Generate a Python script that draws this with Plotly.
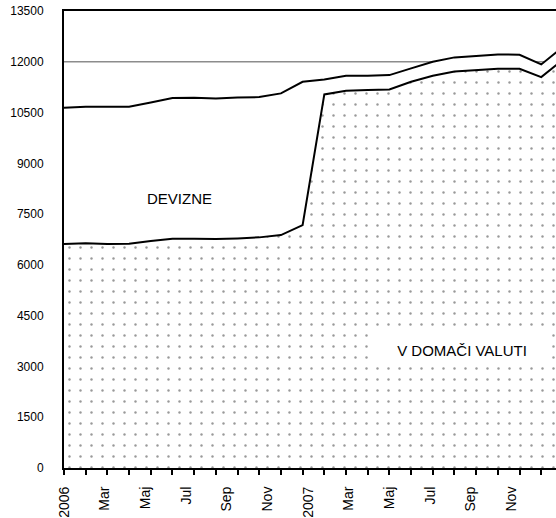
import plotly.graph_objects as go

# Months Jan 2006 .. Dec 2007
months = ["Jan 2006", "Feb 2006", "Mar 2006", "Apr 2006", "Maj 2006", "Jun 2006",
          "Jul 2006", "Avg 2006", "Sep 2006", "Okt 2006", "Nov 2006", "Dec 2006",
          "Jan 2007", "Feb 2007", "Mar 2007", "Apr 2007", "Maj 2007", "Jun 2007",
          "Jul 2007", "Avg 2007", "Sep 2007", "Okt 2007", "Nov 2007", "Dec 2007"]

# V domači valuti (domestic currency)
domestic = [6615, 6636, 6615, 6624, 6704, 6772, 6772, 6763, 6783, 6813, 6881, 7177,
            11036, 11143, 11163, 11184, 11409, 11586, 11715, 11745, 11793, 11793, 11548, 12064]
# Devizne (foreign currency), stacked on top
foreign = [4025, 4034, 4055, 4046, 4096, 4155, 4164, 4155, 4165, 4144, 4185, 4232,
           443, 443, 423, 422, 395, 414, 415, 423, 425, 415, 374, 376]

tick_labels = ["2006", "Mar", "Maj", "Jul", "Sep", "Nov", "2007", "Mar", "Maj", "Jul", "Sep", "Nov"]
y_ticks = list(range(0, 13501, 1500))

x = list(range(len(months)))
total = [d + f for d, f in zip(domestic, foreign)]
label_pos = [1.875 * i for i in range(len(tick_labels))]

FONT = "Liberation Sans, Arial, sans-serif"

fig = go.Figure()
fig.add_trace(go.Scatter(
    x=x, y=domestic, mode="lines", name="V DOMAČI VALUTI",
    line=dict(color="black", width=2),
    fill="tozeroy", fillcolor="white",
    fillpattern=dict(shape=".", fgcolor="#333333", bgcolor="white", size=11, solidity=0.04),
    hovertext=months,
))
fig.add_trace(go.Scatter(
    x=x, y=total, mode="lines", name="DEVIZNE",
    line=dict(color="black", width=2),
    fill="tonexty", fillcolor="white",
    hovertext=months,
))

fig.add_shape(type="line", xref="paper", yref="y", x0=0, x1=1, y0=12000, y1=12000,
              line=dict(color="#8c8c8c", width=1.5), layer="below")

fig.add_annotation(x=5.33, y=7974, text="DEVIZNE", showarrow=False,
                   font=dict(family=FONT, size=15, color="black"))
fig.add_annotation(x=18.34, y=3485, text="V DOMAČI VALUTI", showarrow=False,
                   font=dict(family=FONT, size=15, color="black"),
                   bgcolor="white", width=176, height=30)

fig.update_layout(
    width=556, height=518,
    margin=dict(l=64, r=0, t=11, b=50),
    paper_bgcolor="white", plot_bgcolor="white",
    showlegend=False,
    font=dict(family=FONT, color="black"),
    xaxis=dict(
        range=[0, 22.68], showgrid=False, zeroline=False,
        showline=True, linecolor="black", linewidth=2, mirror=True,
        tickmode="array", tickvals=label_pos, ticktext=tick_labels,
        tickangle=-90, ticks="", ticklabelstandoff=11,
        ticklabeloverflow="allow",
        tickfont=dict(family=FONT, size=14, color="black"),
        minor=dict(tickmode="array", tickvals=x, ticks="outside", ticklen=5,
                   tickwidth=1.5, tickcolor="black", showgrid=False),
        automargin=False,
    ),
    yaxis=dict(
        range=[0, 13500], showgrid=False, zeroline=False,
        showline=True, linecolor="black", linewidth=2,
        tickmode="array", tickvals=y_ticks, ticktext=[str(v) for v in y_ticks],
        ticks="", ticklabelstandoff=16, ticklabeloverflow="allow",
        tickfont=dict(family=FONT, size=12, color="black"),
        automargin=False,
    ),
)

fig.write_html("out.html",
               config={"displayModeBar": False},
               post_script="document.body.style.margin='0';document.body.style.overflow='hidden';")
